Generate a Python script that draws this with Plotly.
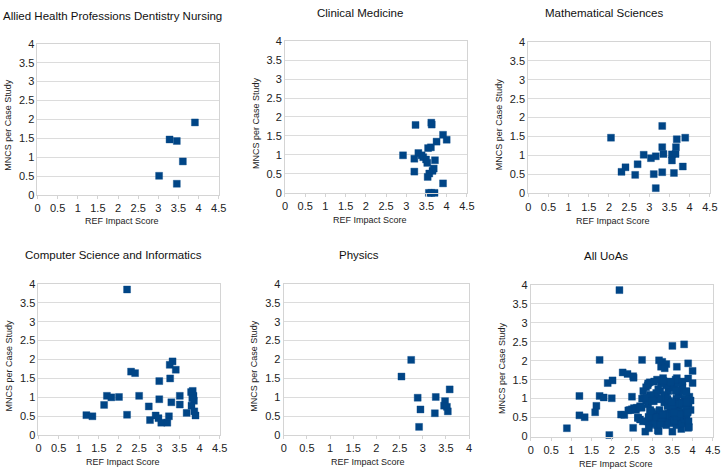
import plotly.graph_objects as go

W, H = 728, 476

titles = ["Allied Health Professions Dentistry Nursing", "Clinical Medicine", "Mathematical Sciences",
          "Computer Science and Informatics", "Physics", "All UoAs"]

ahp_x = [3.91, 3.28, 3.46, 3.61, 3.02, 3.46]
ahp_y = [1.92, 1.47, 1.43, 0.89, 0.51, 0.30]

cm_x = [3.23, 3.62, 3.63, 3.91, 4.00, 3.75, 3.61, 3.54, 2.92, 3.30, 3.20, 3.38, 3.42, 3.49, 3.52,
        3.71, 3.68, 3.65, 3.57, 3.53, 3.20, 3.91, 3.56, 3.62, 3.70]
cm_y = [1.79, 1.85, 1.80, 1.53, 1.40, 1.35, 1.20, 1.18, 0.99, 1.05, 0.90, 0.99, 0.94, 0.88, 0.79,
        0.86, 0.64, 0.58, 0.51, 0.42, 0.56, 0.25, 0.00, 0.00, 0.00]

ms_x = [2.05, 3.32, 3.68, 3.89, 3.32, 3.66, 3.35, 3.56, 3.65, 2.86, 3.16, 3.04, 3.56, 2.71, 3.83,
        2.41, 2.31, 2.65, 3.11, 3.32, 3.61, 3.16]
ms_y = [1.47, 1.78, 1.43, 1.47, 1.22, 1.22, 1.04, 1.03, 1.04, 1.02, 0.98, 0.93, 0.87, 0.77, 0.71,
        0.69, 0.57, 0.49, 0.51, 0.56, 0.54, 0.14]

cs_x = [2.20, 2.30, 2.40, 3.33, 3.26, 3.41, 3.00, 3.27, 1.19, 1.34, 1.63, 1.70, 1.81, 2.00, 2.20,
        2.50, 2.74, 3.00, 2.77, 2.91, 2.98, 3.05, 3.20, 3.24, 3.30, 3.51, 3.51, 3.68, 3.79, 3.83,
        3.85, 3.86, 3.80, 3.87, 3.90, 3.82]
cs_y = [3.85, 1.68, 1.64, 1.95, 1.86, 1.73, 1.43, 1.50, 0.53, 0.50, 0.80, 1.04, 1.00, 1.01, 0.54,
        1.04, 0.76, 0.95, 0.40, 0.52, 0.45, 0.33, 0.33, 0.50, 0.87, 1.04, 0.81, 0.59, 1.14, 1.17,
        1.04, 0.91, 0.78, 0.63, 0.52, 0.98]

ph_x = [2.75, 2.54, 3.58, 2.89, 3.28, 3.48, 3.46, 3.52, 3.54, 2.95, 3.26, 2.92]
ph_y = [1.99, 1.55, 1.21, 0.99, 1.01, 0.90, 0.78, 0.75, 0.63, 0.68, 0.58, 0.22]

all_x = [2.19, 3.50, 3.79, 1.70, 2.75, 3.17, 3.25, 3.35, 3.22, 3.31, 3.61, 3.89, 4.00, 2.27, 2.39,
         2.53, 1.90, 2.02, 2.94, 2.89, 3.27, 3.61, 3.89, 4.00, 1.20, 1.70, 1.80, 2.00, 2.50, 1.62,
         1.59, 1.20, 1.33, 2.23, 0.89, 1.94, 2.53, 2.83, 3.14, 3.50, 3.72, 3.89,
         2.62, 2.70, 2.75, 2.80, 2.85, 2.90, 2.95, 3.00, 3.05, 3.10, 3.12, 3.15, 3.20, 3.25, 3.30,
         3.35, 3.40, 3.45, 3.50, 3.55, 3.60, 3.65, 3.70, 3.75, 3.80, 3.85, 3.90, 3.95, 3.40, 3.45,
         3.50, 3.55, 3.60, 3.65, 3.70, 3.75, 3.80, 3.85, 3.90, 3.35, 3.40, 3.45, 3.50, 3.55, 3.60,
         3.65, 3.70, 3.75, 3.30, 3.25, 3.20, 3.15, 3.10, 3.05, 3.00, 2.95, 2.90, 2.85, 2.78, 2.70,
         2.65, 2.60, 2.55, 2.50, 2.45, 2.88, 2.92, 2.98, 3.02, 3.08, 3.18, 3.28, 3.38, 3.48, 3.58,
         3.68, 3.78, 3.88, 3.92, 3.95, 3.85, 3.75, 3.65, 3.58, 3.45, 3.35, 3.22, 3.12, 3.05,
         3.46, 3.02, 3.61, 3.28, 3.30, 3.38, 3.42, 3.49, 3.52, 3.71, 3.57, 3.53, 3.20, 3.91, 2.86,
         3.16, 3.04, 3.56, 2.71, 3.83, 2.41, 2.31, 2.65, 3.11, 3.32, 3.61, 3.16, 3.00, 2.74, 2.77,
         2.91, 3.05, 3.20, 3.24, 3.51, 3.68, 3.83, 3.86, 3.87, 2.54, 3.58, 3.48, 3.54, 2.95, 3.26,
         2.92]
all_y = [3.86, 2.39, 2.43, 2.02, 2.02, 2.01, 1.97, 1.91, 1.84, 1.80, 1.84, 1.93, 1.73, 1.69, 1.65,
         1.59, 1.41, 1.48, 1.43, 1.35, 1.54, 1.54, 1.53, 1.41, 1.07, 1.07, 1.03, 1.01, 1.05, 0.81,
         0.64, 0.56, 0.51, 0.58, 0.22, 0.04, 0.23, 0.13, 0.16, 0.13, 0.20, 0.23,
         0.76, 0.80, 1.00, 1.02, 0.95, 0.85, 0.70, 0.65, 0.55, 0.45, 0.30, 0.40, 0.50, 0.35, 0.45,
         0.30, 0.40, 0.50, 0.35, 0.45, 0.30, 0.40, 0.50, 0.35, 0.45, 0.55, 0.40, 0.70, 0.60, 0.70,
         0.80, 0.90, 1.00, 1.10, 1.20, 1.30, 1.00, 0.90, 0.80, 1.10, 1.20, 1.30, 1.40, 1.30, 1.20,
         0.75, 0.65, 0.85, 0.90, 1.00, 1.20, 1.25, 1.15, 1.05, 0.95, 1.10, 1.40, 1.30, 1.20, 0.45,
         0.50, 0.70, 0.75, 0.72, 0.70, 0.40, 0.30, 0.50, 0.35, 0.60, 0.70, 0.60, 0.80, 0.60, 0.65,
         0.90, 0.60, 0.65, 1.05, 0.95, 1.20, 1.45, 1.40, 1.50, 1.45, 1.35, 1.40, 1.50, 1.45,
         1.43, 0.51, 0.89, 1.47, 1.05, 0.99, 0.94, 0.88, 0.79, 0.86, 0.51, 0.42, 0.56, 0.25, 1.02,
         0.98, 0.93, 0.87, 0.77, 0.71, 0.69, 0.57, 0.49, 0.51, 0.56, 0.54, 0.14, 0.95, 0.76, 0.40,
         0.52, 0.33, 0.33, 0.50, 0.81, 0.59, 1.17, 0.91, 0.63, 1.55, 1.21, 0.90, 0.63, 0.68, 0.58,
         0.22]

xs = [ahp_x, cm_x, ms_x, cs_x, ph_x, all_x]
ys = [ahp_y, cm_y, ms_y, cs_y, ph_y, all_y]
xmax = [4.5, 4.5, 4.5, 4.5, 4.0, 4.5]

# plot areas in pixels: (left, right, top, bottom)
boxes = [(35, 219, 38.7, 194), (286.3, 471, 36, 191.7), (533.3, 717.7, 36.7, 192.3),
         (36, 220, 285, 440.3), (285, 473.3, 285, 440.3), (536, 720.7, 286, 441.7)]
title_pos = [(111, 10), (362, 7), (610, 7), (112, 255), (361, 255), (612, 256)]
xt_pos = [(121, 221), (373, 220), (619, 221), (122, 468), (371, 468), (622, 470)]
yt_pos = [(5, 122), (257, 120), (504, 121), (6, 369), (255, 369), (506, 371)]

def px(x):
    return x / W

def py(y):
    return 1 - y / H

FONT = "Liberation Sans, Arial, sans-serif"
fig = go.Figure()
layout = dict(width=W, height=H, margin=dict(l=0, r=0, t=0, b=0),
              paper_bgcolor="white", plot_bgcolor="white", showlegend=False,
              font=dict(family=FONT, color="#222"))
annotations = []
for i in range(6):
    n = "" if i == 0 else str(i + 1)
    fig.add_trace(go.Scatter(x=xs[i], y=ys[i], mode="markers",
                             marker=dict(symbol="square", size=7, color="#004586",
                                         line=dict(width=0.8, color="rgba(0,69,134,0.45)")),
                             xaxis="x" + n, yaxis="y" + n, cliponaxis=False))
    l, r, t, b = boxes[i]
    layout["xaxis" + n] = dict(domain=[px(l), px(r)], range=[0, xmax[i]], dtick=0.5, tick0=0,
                               anchor="y" + n, showgrid=False, zeroline=False,
                               showline=True, linecolor="#d4d4d4", linewidth=1, mirror=True,
                               ticks="outside", ticklen=3, tickcolor="#d4d4d4",
                               tickfont=dict(size=11, family=FONT, color="#222"))
    layout["yaxis" + n] = dict(domain=[py(b), py(t)], range=[0, 4], dtick=0.5, tick0=0,
                               anchor="x" + n, showgrid=True, gridcolor="#dcdcdc", zeroline=False,
                               showline=True, linecolor="#d4d4d4", linewidth=1, mirror=True,
                               ticks="", tickfont=dict(size=11, family=FONT, color="#222"))
    annotations.append(dict(text=titles[i], x=px(title_pos[i][0]), y=py(title_pos[i][1]),
                            xref="paper", yref="paper", showarrow=False,
                            xanchor="center", yanchor="middle",
                            font=dict(size=11.5, family=FONT, color="#111")))
    annotations.append(dict(text="REF Impact Score", x=px(xt_pos[i][0]), y=py(xt_pos[i][1]),
                            xref="paper", yref="paper", showarrow=False,
                            xanchor="center", yanchor="middle",
                            font=dict(size=9, family=FONT, color="#222")))
    annotations.append(dict(text="MNCS per Case Study", x=px(yt_pos[i][0]), y=py(yt_pos[i][1]),
                            xref="paper", yref="paper", showarrow=False, textangle=-90,
                            xanchor="center", yanchor="middle",
                            font=dict(size=9, family=FONT, color="#222")))
layout["annotations"] = annotations
fig.update_layout(**layout)
fig.write_html("out.html", config={"displayModeBar": False},
               post_script="document.body.style.margin='0';document.body.style.padding='0';"
                           "document.body.style.overflow='hidden';")
